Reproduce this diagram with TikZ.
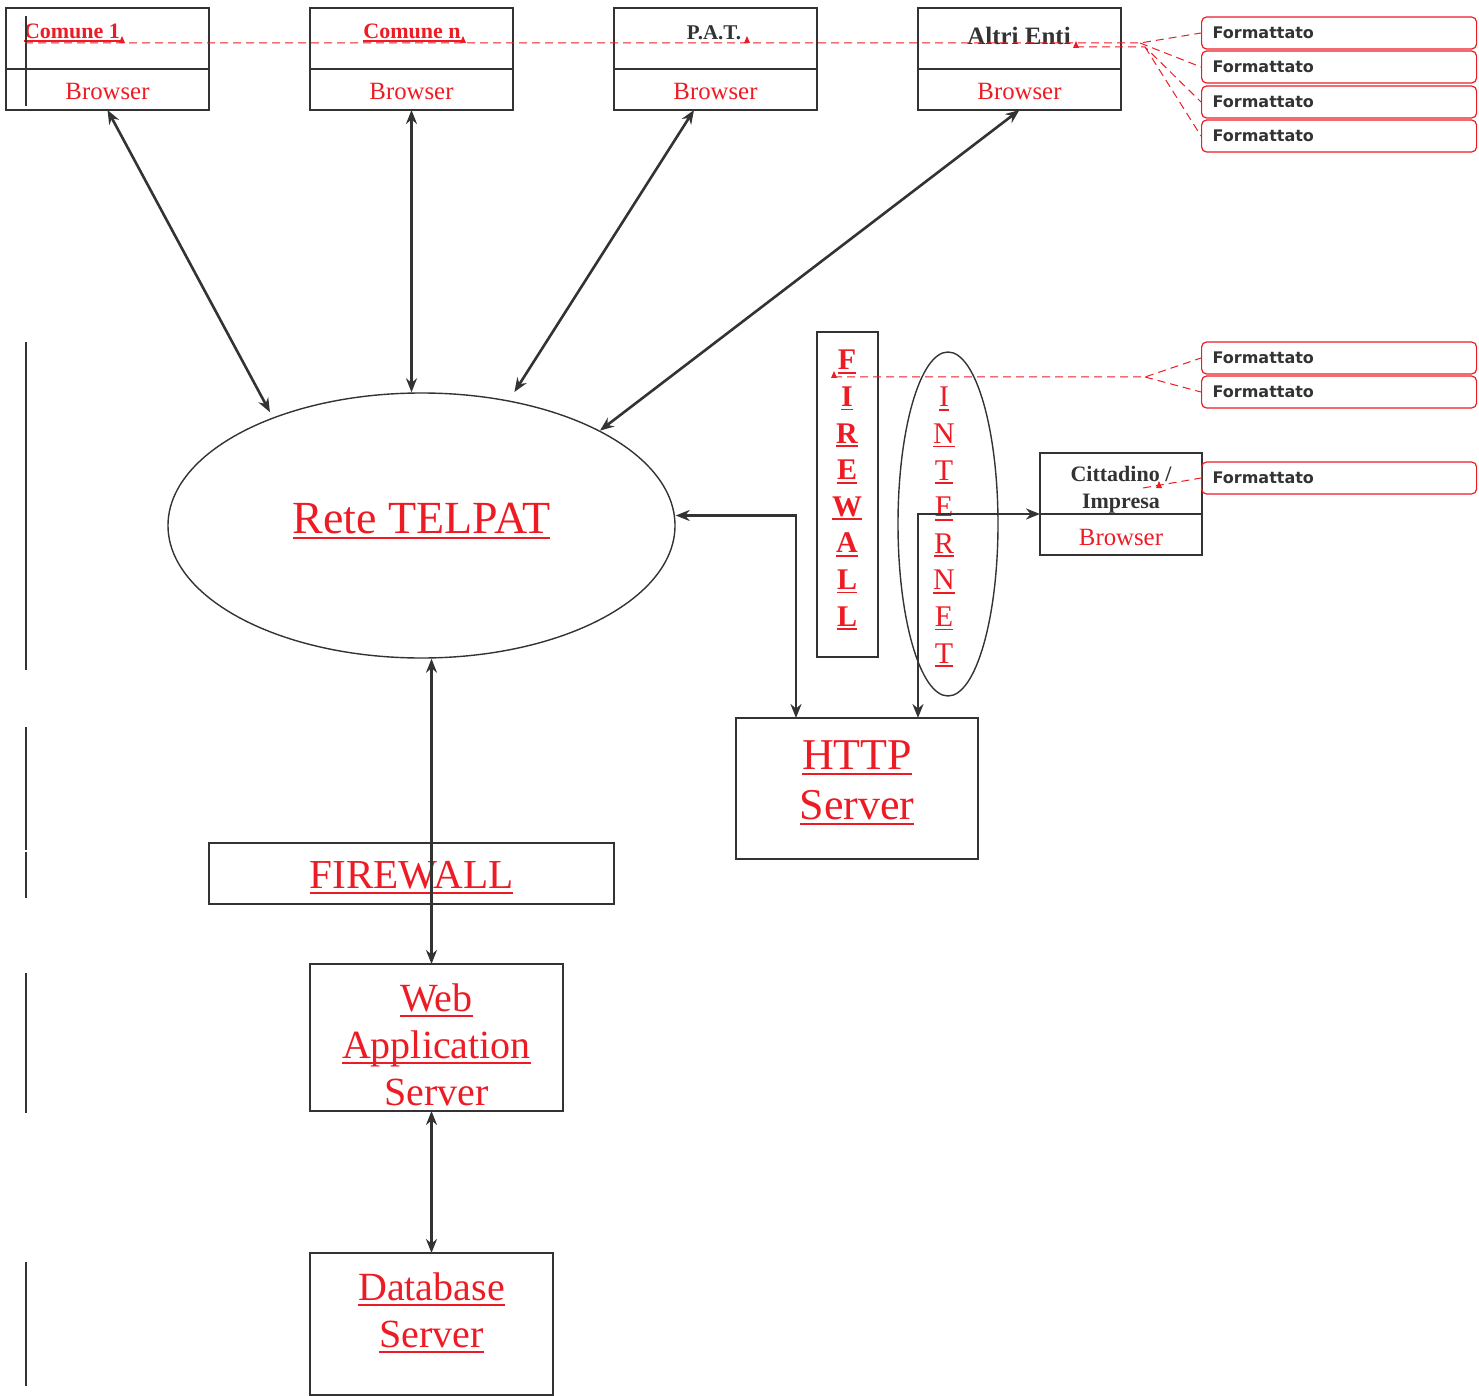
\documentclass[tikz,border=0pt]{standalone}
\usepackage{fontspec}
\setmainfont{Liberation Serif}
\newfontfamily\fmtfont{DejaVu Sans}
\usetikzlibrary{arrows.meta,shapes.geometric,positioning}
\definecolor{redc}{HTML}{ED1C24}
\definecolor{linec}{HTML}{333333}
\newcommand\fsz[2]{\fontsize{#1pt}{#2pt}\selectfont}
\newcommand\undl[1]{\setbox0\hbox{#1}\rlap{\raisebox{-.13em}{\rule{\wd0}{.9pt}}}\box0}
\tikzset{
    box/.style={draw=linec, line width=1pt, inner sep=0pt, outer sep=0pt},
    hdr/.style={box, minimum width=101.5pt, minimum height=30.5pt},
    brw/.style={box, minimum width=101.5pt, minimum height=20.5pt, text=redc, font=\fsz{12.4}{14}, yshift=-1pt},
    fmt/.style={draw=redc, line width=.6pt, rounded corners=2.5pt, anchor=west, minimum height=16pt,
        text width=126.5pt, inner xsep=5.5pt, inner ysep=0pt, align=left, text=linec, font=\fmtfont\bfseries\fsz{8}{9}},
    link/.style={draw=linec, line width=1.3pt, >={Stealth[length=7pt,width=5.5pt]}, <->},
    note/.style={draw=redc, line width=.5pt, dash pattern=on 4pt off 2.5pt},
    redtri/.pic={\fill[redc] (-3,2) -- (3,2) -- (0,-5) -- cycle;}
}
\begin{document}
\begin{tikzpicture}[x=0.5pt, y=-0.5pt]
        \useasboundingbox (0,0) rectangle (1479,1396);
        \foreach \n/\xx in {c1/107.5, cn/411.5, pat/715.5, ae/1019.5}{
            \node[hdr] (\n) at (\xx,38.5) {};
            \node[box, minimum width=101.5pt, minimum height=20.5pt, below=0pt of \n] (\n-b) {};
            \node[text=redc, font=\fsz{12.4}{14}] at (\xx,92) {Browser};
        }
        \node[text=redc, font=\bfseries\fsz{11}{13}] at (72,33) {\undl{Comune 1}};
        \node[text=redc, font=\bfseries\fsz{11}{13}] at (412,33) {\undl{Comune n}};
        \node[text=linec, font=\bfseries\fsz{10.5}{12}] at (714,33) {P.A.T.};
        \node[text=linec, font=\bfseries\fsz{12.5}{14}] at (1019,36) {Altri Enti};
        \node[box, minimum width=81pt, minimum height=30.5pt] (cit) at (1121,483.5) {};
        \node[align=center, text=linec, font=\bfseries\fsz{11}{13.5}] at (1121,490) {Cittadino /\\Impresa};
        \node[box, minimum width=81pt, minimum height=20.5pt, below=0pt of cit] (cit-b) {};
        \node[text=redc, font=\fsz{12.4}{14}] at (1121,537) {Browser};
        \foreach \yy [count=\i] in {33,67,102,136,358,392,478}
            \node[fmt] (f\i) at (1201,\yy) {Formattato};
        % firewall verticale e internet
        \node[box, minimum width=30.5pt, minimum height=162.5pt] (fwv) at (847.5,494.5) {};
        \foreach \l [count=\i] in {F,I,R,E,W,A,L,L}
            \node[text=redc, font=\bfseries\fsz{15}{17}] at (847,325.4+36.6*\i) {\undl{\l}};
        \node[draw=linec, line width=.7pt, ellipse, minimum width=50pt, minimum height=172pt, inner sep=0pt] (inet) at (948,524) {};
        \foreach \l [count=\i] in {I,N,T,E,R,N,E,T}
            \node[text=redc, font=\fsz{15}{17}] at (944,362.4+36.6*\i) {\undl{\l}};
        \node[draw=linec, line width=.7pt, ellipse, minimum width=253.5pt, minimum height=132.5pt, inner sep=0pt] (rete) at (421.5,525.5) {};
        \node[text=redc, font=\fsz{23}{26}] at (421.5,521) {\undl{Rete TELPAT}};
        % server
        \node[box, minimum width=121pt, minimum height=70.5pt] (http) at (857,788.5) {};
        \node[text=redc, font=\fsz{22}{25}, align=center] at (857,783) {\undl{HTTP}\\\undl{Server}};
        \node[box, minimum width=202.5pt, minimum height=30.5pt] (fwh) at (411.5,873.5) {};
        \node[text=redc, font=\fsz{20.6}{24}] at (411.5,878) {\undl{FIREWALL}};
        \node[box, minimum width=126.5pt, minimum height=73.5pt] (wapp) at (436.5,1037.5) {};
        \node[text=redc, font=\fsz{20}{23.5}, align=center] at (436.5,1045) {\undl{Web}\\\undl{Application}\\Server};
        \node[box, minimum width=121.5pt, minimum height=71pt] (dbs) at (431.5,1324) {};
        \node[text=redc, font=\fsz{20}{23.5}, align=center] at (431.5,1313) {\undl{Database}\\\undl{Server}};
        % collegamenti
        \draw[link, shorten >=3pt] (c1-b.south) -- (rete.144);
        \draw[link] (cn-b.south) -- (cn-b.south |- rete.north);
        \draw[link, shorten >=5pt] ([xshift=-10.75pt]pat-b.south) -- (rete.55);
        \draw[link] (ae-b.south) -- (rete.28);
        \draw[link] ([yshift=5pt]rete.east) -| ([xshift=-30.5pt]http.north);
        \draw[link] ([xshift=30.5pt]http.north) |- (cit.south west);
        \draw[link] (rete.south -| dbs.north) -- (wapp.north -| dbs.north);
        \draw[link] (wapp.south -| dbs.north) -- (dbs.north);
        % barre laterali
        \draw[linec, line width=1pt] (26,16) -- (26,106);
        \foreach \a/\b in {342/670, 727/850, 852/898, 973/1113, 1262/1386}
            \draw[linec, line width=1pt] (26,\a) -- (26,\b);
        % commenti
        \coordinate (s1) at (25,43);
        \coordinate (s2) at (1076,47);
        \coordinate (s3) at (834,377);
        \coordinate (s4) at (1143,488);
        \coordinate (n1) at (1140,43);
        \coordinate (n2) at (1145,47);
        \coordinate (n3) at (1145,377);
        \draw[note] (s1) -- (n1) -- (f1.west);
        \draw[note] (n1) -- (f2.west);
        \draw[note] (s2) -- (n2) -- (f3.west);
        \draw[note] (n2) -- (f4.west);
        \draw[note] (s3) -- (n3) -- (f5.west);
        \draw[note] (n3) -- (f6.west);
        \draw[note] (s4) -- (f7.west);
        \foreach \p in {(122,41), (463,41), (747,41), (1076,46), (834,376), (1159,486)}
            \pic at \p {redtri};
\end{tikzpicture}
\end{document}
